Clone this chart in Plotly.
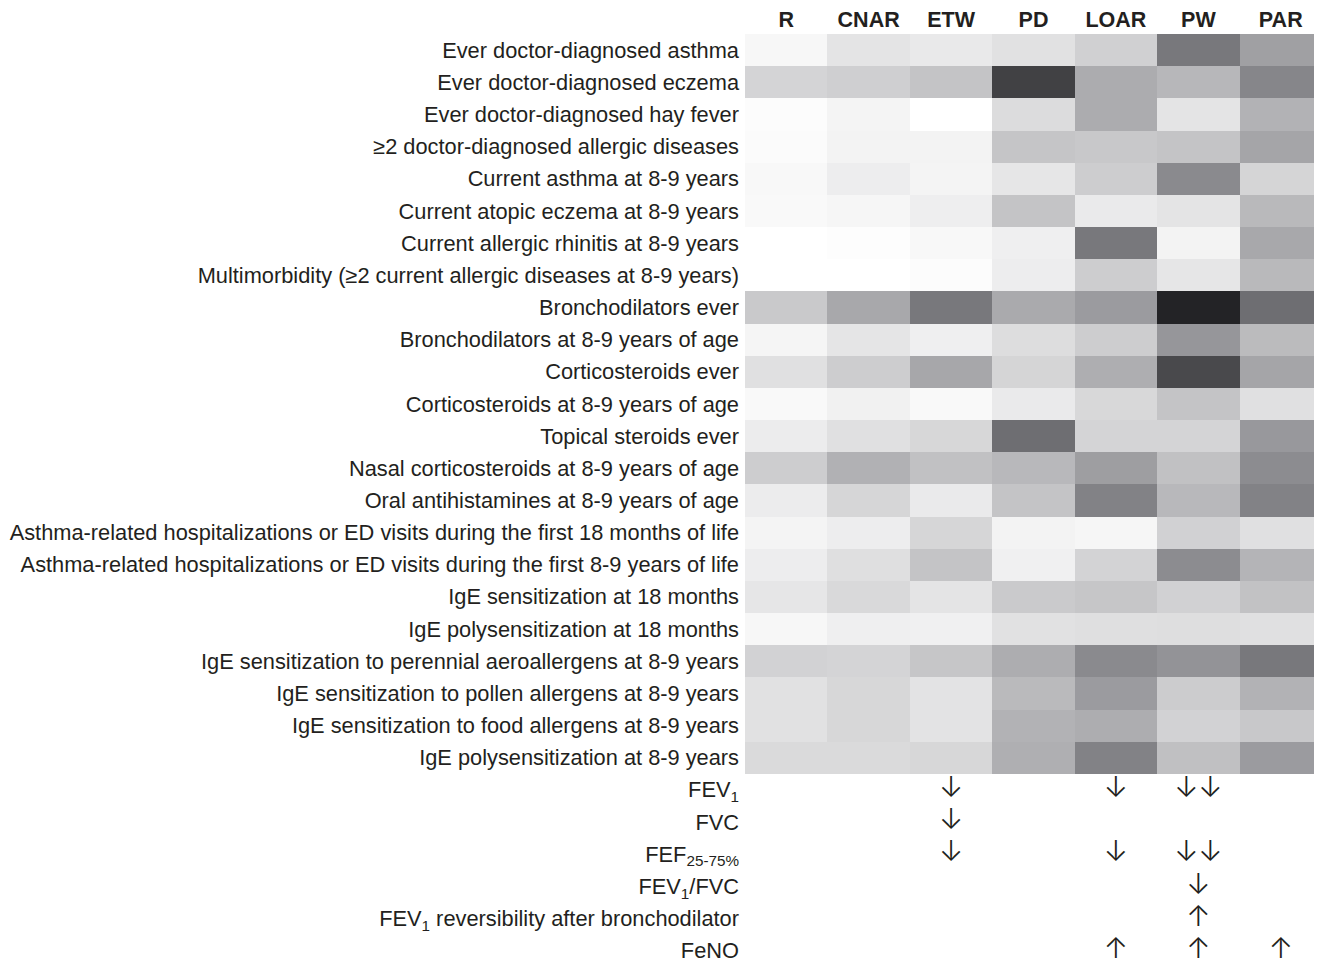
import plotly.graph_objects as go

groups = ["R", "CNAR", "ETW", "PD", "LOAR", "PW", "PAR"]

outcomes = [
    "Ever doctor-diagnosed asthma",
    "Ever doctor-diagnosed eczema",
    "Ever doctor-diagnosed hay fever",
    "≥2 doctor-diagnosed allergic diseases",
    "Current asthma at 8-9 years",
    "Current atopic eczema at 8-9 years",
    "Current allergic rhinitis at 8-9 years",
    "Multimorbidity (≥2 current allergic diseases at 8-9 years)",
    "Bronchodilators ever",
    "Bronchodilators at 8-9 years of age",
    "Corticosteroids ever",
    "Corticosteroids at 8-9 years of age",
    "Topical steroids ever",
    "Nasal corticosteroids at 8-9 years of age",
    "Oral antihistamines at 8-9 years of age",
    "Asthma-related hospitalizations or ED visits during the first 18 months of life",
    "Asthma-related hospitalizations or ED visits during the first 8-9 years of life",
    "IgE sensitization at 18 months",
    "IgE polysensitization at 18 months",
    "IgE sensitization to perennial aeroallergens at 8-9 years",
    "IgE sensitization to pollen allergens at 8-9 years",
    "IgE sensitization to food allergens at 8-9 years",
    "IgE polysensitization at 8-9 years",
]

lung_outcomes = [
    "FEV<sub>1</sub>",
    "FVC",
    "FEF<sub>25-75%</sub>",
    "FEV<sub>1</sub>/FVC",
    "FEV<sub>1</sub> reversibility after bronchodilator",
    "FeNO",
]

# cell lightness (0 = black, 255 = white), rows follow `outcomes`, columns follow `groups`
lightness = [
    [247, 228, 233, 225, 208, 120, 160],
    [212, 207, 196, 65, 172, 183, 134],
    [252, 244, 255, 220, 172, 228, 178],
    [251, 243, 243, 197, 200, 196, 165],
    [248, 237, 244, 230, 205, 138, 213],
    [249, 246, 238, 196, 234, 228, 185],
    [255, 253, 248, 239, 120, 243, 168],
    [255, 255, 252, 237, 205, 230, 185],
    [201, 168, 120, 170, 155, 35, 110],
    [245, 229, 239, 221, 205, 150, 187],
    [224, 205, 167, 213, 174, 73, 165],
    [249, 241, 249, 234, 216, 196, 224],
    [236, 224, 215, 110, 212, 212, 152],
    [205, 177, 193, 184, 158, 193, 140],
    [236, 214, 234, 196, 130, 184, 130],
    [244, 237, 214, 243, 246, 209, 224],
    [237, 223, 196, 240, 211, 140, 180],
    [230, 217, 228, 202, 198, 209, 194],
    [247, 239, 240, 225, 223, 222, 224],
    [210, 212, 198, 173, 138, 147, 120],
    [225, 215, 227, 186, 155, 204, 178],
    [225, 215, 227, 178, 173, 210, 200],
    [218, 218, 215, 175, 130, 192, 155],
]

# lung function arrows: (outcome, group, symbol)
arrows = [
    ("FEV<sub>1</sub>", "ETW", "↓"),
    ("FEV<sub>1</sub>", "LOAR", "↓"),
    ("FEV<sub>1</sub>", "PW", "↓↓"),
    ("FVC", "ETW", "↓"),
    ("FEF<sub>25-75%</sub>", "ETW", "↓"),
    ("FEF<sub>25-75%</sub>", "LOAR", "↓"),
    ("FEF<sub>25-75%</sub>", "PW", "↓↓"),
    ("FEV<sub>1</sub>/FVC", "PW", "↓"),
    ("FEV<sub>1</sub> reversibility after bronchodilator", "PW", "↑"),
    ("FeNO", "LOAR", "↑"),
    ("FeNO", "PW", "↑"),
    ("FeNO", "PAR", "↑"),
]

all_rows = outcomes + lung_outcomes
row_idx = {name: i for i, name in enumerate(all_rows)}
col_idx = {g: i for i, g in enumerate(groups)}

z = [row[:] for row in lightness] + [[None] * len(groups) for _ in lung_outcomes]

fig = go.Figure()
fig.add_trace(go.Heatmap(
    z=z,
    x=list(range(len(groups))),
    y=list(range(len(all_rows))),
    zmin=0, zmax=255,
    colorscale=[
        [0.0, "rgb(0,0,2)"],
        [0.5, "rgb(127,128,132)"],
        [1.0, "rgb(255,255,255)"],
    ],
    showscale=False,
    hoverongaps=False,
))

fig.add_trace(go.Scatter(
    x=[col_idx[a[1]] for a in arrows],
    y=[row_idx[a[0]] for a in arrows],
    text=[a[2] for a in arrows],
    mode="text",
    textfont=dict(size=29, color="#231f20", family="Inter", weight=300),
    textposition="middle center",
    cliponaxis=False,
    showlegend=False,
    hoverinfo="skip",
))

font_family = "Liberation Sans, Arial, sans-serif"
fig.update_layout(
    width=1306, height=955,
    margin=dict(l=737, r=0, t=26, b=0),
    paper_bgcolor="white",
    plot_bgcolor="white",
    showlegend=False,
    font=dict(family=font_family, color="#231f20", size=21.8),
    xaxis=dict(
        side="top",
        tickmode="array",
        tickvals=list(range(len(groups))),
        ticktext=[f"<b>{g}</b>" for g in groups],
        tickfont=dict(size=21.5, family=font_family, color="#231f20"),
        range=[-0.5, 6.403],
        showgrid=False, zeroline=False, showline=False, ticks="",
        ticklabelstandoff=2,
        fixedrange=True,
    ),
    yaxis=dict(
        tickmode="array",
        tickvals=list(range(len(all_rows))),
        ticktext=all_rows,
        tickfont=dict(size=21.8, family=font_family, color="#231f20"),
        range=[28.26, -0.5],
        showgrid=False, zeroline=False, showline=False, ticks="",
        ticklabelstandoff=5,
        ticklabeloverflow="allow",
        fixedrange=True,
    ),
)

fig.write_html("out.html")
